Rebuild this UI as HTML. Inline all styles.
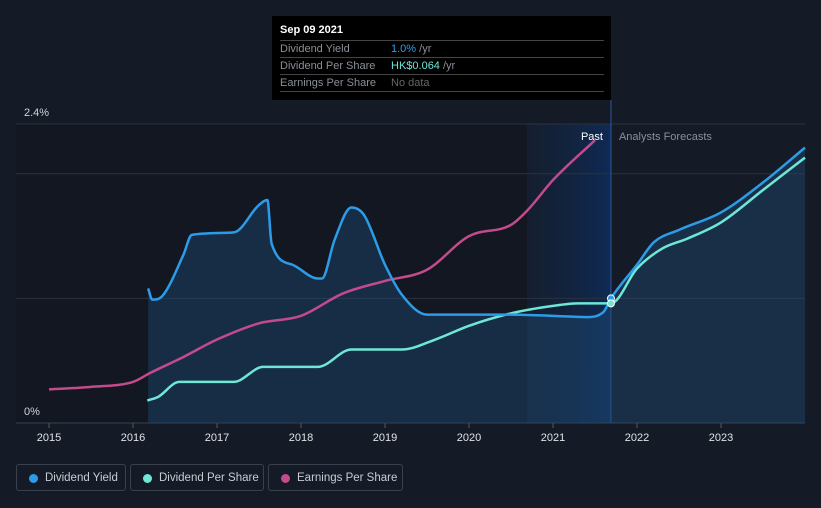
<!DOCTYPE html>
<html><head><meta charset="utf-8"><style>
body{margin:0;background:#151b26;font-family:"Liberation Sans",sans-serif;}
#wrap{position:relative;width:821px;height:508px;overflow:hidden;background:#151b26;}
.tt{position:absolute;left:272px;top:16px;width:339px;height:84px;background:#000;color:#fff;font-size:11px;}
.tt .row{position:absolute;left:8px;width:324px;border-top:1px solid #444;height:16px;line-height:16px;color:#8a8f98;}
.leg{position:absolute;top:464px;height:27px;border:1px solid #3b414c;border-radius:3px;color:#c8ccd2;font-size:12px;line-height:27px;box-sizing:border-box;white-space:nowrap;}
.leg i{position:absolute;left:12px;top:9px;width:9px;height:9px;border-radius:50%;}
</style></head><body>
<div id="wrap">
<svg id="svg" width="821" height="508" style="position:absolute;left:0;top:0"></svg>
<div class="tt">
<div style="position:absolute;left:8px;top:8px;font-weight:bold;font-size:11px">Sep 09 2021</div>
<div class="row" style="top:24px">Dividend Yield<span style="position:absolute;left:111px"><span style="color:#2d9ce8">1.0%</span> /yr</span></div>
<div class="row" style="top:41px">Dividend Per Share<span style="position:absolute;left:111px"><span style="color:#6ee7d6">HK$0.064</span> /yr</span></div>
<div class="row" style="top:58px">Earnings Per Share<span style="position:absolute;left:111px;color:#666">No data</span></div>
<div class="row" style="top:75px;height:0"></div>
</div>
<div class="leg" style="left:16px;width:110px"><i style="background:#2d9ce8"></i><span style="position:absolute;left:28px;font-size:11.5px">Dividend Yield</span></div>
<div class="leg" style="left:130px;width:134px"><i style="background:#6ee7d6"></i><span style="position:absolute;left:28px;font-size:11.5px">Dividend Per Share</span></div>
<div class="leg" style="left:268px;width:135px"><i style="background:#c34a8c"></i><span style="position:absolute;left:28px;font-size:11.5px">Earnings Per Share</span></div>
</div>
<script>
const years=[2015,2016,2017,2018,2019,2020,2021,2022,2023];
const yTicks=[0,2.4];
const dyT=[2016.18,2016.23,2016.35,2016.6,2016.7,2017.2,2017.5,2017.6,2017.65,2017.9,2018.2,2018.25,2018.4,2018.6,2018.75,2019.0,2019.2,2019.5,2020,2020.5,2021,2021.4,2021.6,2021.69,2022,2022.2,2022.5,2023,2023.5,2024];
const dyV=[1.08,0.99,1.02,1.35,1.51,1.53,1.75,1.79,1.44,1.27,1.16,1.16,1.47,1.73,1.67,1.27,1.03,0.87,0.87,0.87,0.86,0.85,0.89,1.0,1.27,1.45,1.55,1.69,1.93,2.21];
const dpsT=[2016.17,2016.3,2016.55,2017.2,2017.55,2018.2,2018.6,2019.2,2019.6,2020.0,2020.5,2021.0,2021.3,2021.69,2022,2022.3,2022.6,2023,2023.5,2024];
const dpsV=[0.18,0.21,0.33,0.33,0.45,0.45,0.59,0.59,0.67,0.78,0.88,0.94,0.96,0.96,1.24,1.40,1.48,1.61,1.87,2.13];
const epsT=[2015,2015.5,2016,2016.2,2016.6,2017,2017.5,2018,2018.5,2019,2019.5,2020,2020.5,2020.7,2021,2021.5];
const epsV=[0.27,0.29,0.33,0.40,0.53,0.67,0.80,0.86,1.04,1.14,1.23,1.50,1.59,1.71,1.95,2.27];
const nowT=2021.69, pastStart=2020.69;
const X=t=>49+(t-2015)*84, Y=v=>423-v*124.6;
const svg=document.getElementById('svg'),NS='http://www.w3.org/2000/svg';
function mk(tag,a,name){const e=document.createElementNS(NS,tag);for(const k in a)e.setAttribute(k,a[k]);


svg.appendChild(e);return e;}
const defs=mk('defs',{},'defs');
defs.innerHTML='<linearGradient id="pg" x1="0" x2="1"><stop offset="0" stop-color="#13233d" stop-opacity="0.4"/><stop offset="1" stop-color="#0f2a55"/></linearGradient>';
mk('rect',{x:16,y:124,width:X(pastStart)-16,height:299,fill:'#121721'},'history-bg');
mk('rect',{x:X(pastStart),y:124,width:X(nowT)-X(pastStart),height:299,fill:'url(#pg)'},'past-region');
[1,2,2.4].forEach(v=>mk('line',{x1:16,x2:805,y1:Y(v),y2:Y(v),stroke:'#2c323d'},'gridline'));
mk('line',{x1:16,x2:805,y1:423,y2:423,stroke:'#3a404a'},'x-axis');
mk('line',{x1:X(nowT),x2:X(nowT),y1:100,y2:423,stroke:'#2a5a9a'},'now-line');
yTicks.forEach(v=>{const t=mk('text',{x:24,y:Y(v)-8,fill:'#d0d3d8','font-size':11},'y-tick-label');t.textContent=v+'%';});
years.forEach(y=>{mk('line',{x1:X(y),x2:X(y),y1:423,y2:428,stroke:'#555'},'x-tick');const t=mk('text',{x:X(y),y:441,fill:'#e0e2e6','font-size':11,'text-anchor':'middle'},'x-tick-label');t.textContent=y;});
function smooth(T,V){
 const p=T.map((t,i)=>[X(t),Y(V[i])]),n=p.length;
 const d=[],m=new Array(n);
 for(let i=0;i<n-1;i++)d.push((p[i+1][1]-p[i][1])/(p[i+1][0]-p[i][0]));
 m[0]=d[0];m[n-1]=d[n-2];
 for(let i=1;i<n-1;i++){m[i]=(d[i-1]*d[i]<=0)?0:(d[i-1]+d[i])/2;}
 for(let i=0;i<n-1;i++){if(d[i]===0){m[i]=0;m[i+1]=0;continue;}const a=m[i]/d[i],b=m[i+1]/d[i],s=a*a+b*b;if(s>9){const tt=3/Math.sqrt(s);m[i]=tt*a*d[i];m[i+1]=tt*b*d[i];}}
 let s='M'+p[0][0]+','+p[0][1];
 for(let i=0;i<n-1;i++){const h=(p[i+1][0]-p[i][0])/3;
  s+=` C${p[i][0]+h},${p[i][1]+m[i]*h} ${p[i+1][0]-h},${p[i+1][1]-m[i+1]*h} ${p[i+1][0]},${p[i+1][1]}`;}
 return s;}
const dyPath=smooth(dyT,dyV);
mk('path',{d:dyPath+` L${X(dyT[dyT.length-1])},423 L${X(dyT[0])},423 Z`,fill:'#1e4a72','fill-opacity':0.45},'dividend-yield-area');
mk('path',{d:smooth(epsT,epsV),fill:'none',stroke:'#c34a8c','stroke-width':2.5},'earnings-per-share-line');
mk('path',{d:smooth(dpsT,dpsV),fill:'none',stroke:'#6ee7d6','stroke-width':2.5},'dividend-per-share-line');
mk('path',{d:dyPath,fill:'none',stroke:'#2d9ce8','stroke-width':2.5},'dividend-yield-line');
mk('circle',{cx:X(nowT),cy:Y(1.0),r:3.5,fill:'#2d9ce8',stroke:'#fff'},'yield-marker');
mk('circle',{cx:X(nowT),cy:Y(0.96),r:3.5,fill:'#6ee7d6',stroke:'#fff'},'dps-marker');
let t=mk('text',{x:X(nowT)-8,y:140,fill:'#fff','font-size':11,'text-anchor':'end'},'past-label');t.textContent='Past';
t=mk('text',{x:X(nowT)+8,y:140,fill:'#8a8f98','font-size':11},'forecast-label');t.textContent='Analysts Forecasts';
</script>
</body></html>
